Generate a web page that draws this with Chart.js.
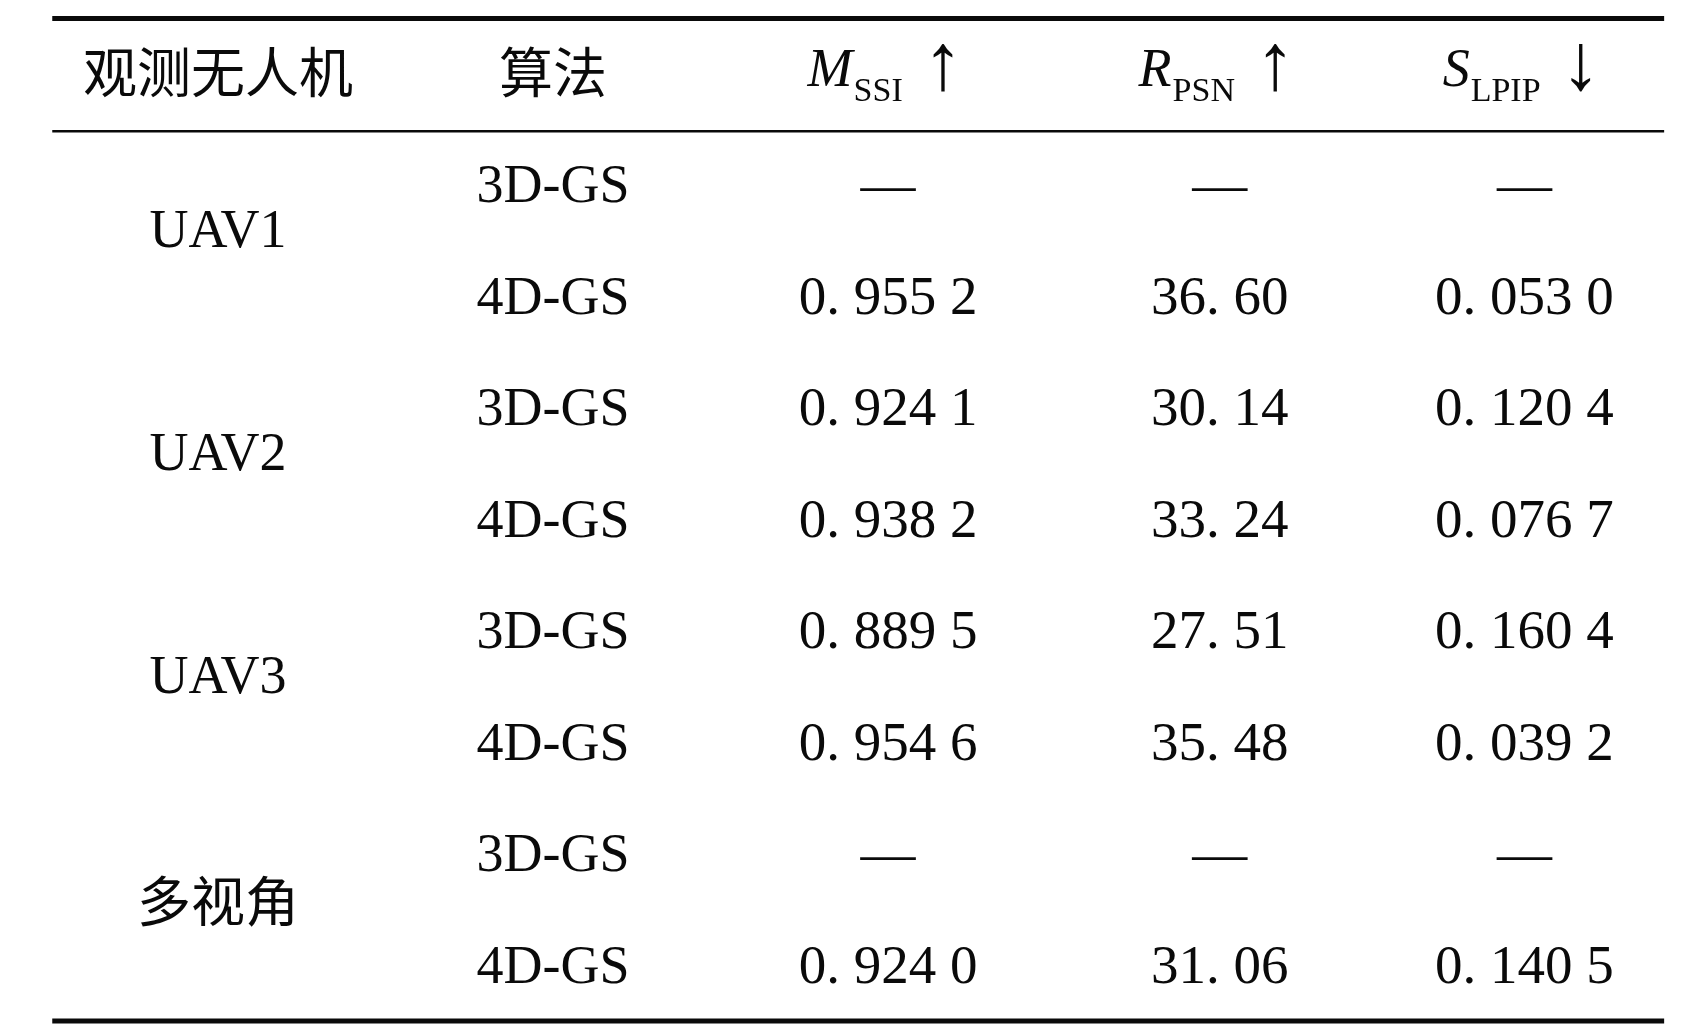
<!DOCTYPE html>
<html>
<head>
<meta charset="utf-8">
<script src="https://cdn.jsdelivr.net/npm/chart.js@4/dist/chart.umd.min.js"></script>
<style>
html, body { margin: 0; padding: 0; background: #fff; }
#wrap { width: 1703px; height: 1033px; }
</style>
</head>
<body>
<div id="wrap"><canvas id="table" width="1703" height="1033"></canvas></div>
<script>
// table data
const headMain = ["观测无人机", "算法", "M", "R", "S"];
const headSub = ["", "", "SSI", "PSN", "LPIP"];
const headArrow = ["", "", "↑", "↑", "↓"];
const groups = ["UAV1", "UAV2", "UAV3", "多视角"];
const methods = ["3D-GS", "4D-GS", "3D-GS", "4D-GS", "3D-GS", "4D-GS", "3D-GS", "4D-GS"];
const ssim = [null, 0.9552, 0.9241, 0.9382, 0.8895, 0.9546, null, 0.9240];
const psnr = [null, 36.60, 30.14, 33.24, 27.51, 35.48, null, 31.06];
const lpips = [null, 0.0530, 0.1204, 0.0767, 0.1604, 0.0392, null, 0.1405];

// layout (in scale units: x = column, y = row)
const colX = [0, 1, 2, 2.99, 3.9];
const headY = -0.04;
const headShift = -0.01;
const groupShift = 0.4;
const rules = [
	{ y: -0.52, w: 5 },
	{ y: 0.49, w: 2.5 },
	{ y: 8.47, w: 5 },
];
const ruleLeft = -0.495;
const ruleRight = 4.317;

const serif = "'Liberation Serif', 'Times New Roman', 'Noto Sans CJK SC', serif";
const cjk = "'Noto Sans CJK SC', serif";

// "0.9552" -> "0. 955 2", "36.6" -> "36. 60"
function fmt(v, dec) {
	if (v == null) return "—";
	let parts = v.toFixed(dec).split(".");
	let frac = parts[1];
	if (frac.length > 3) frac = frac.slice(0, 3) + " " + frac.slice(3);
	return parts[0] + ". " + frac;
}

const cellText = {
	id: "cellText",
	afterDatasetsDraw(chart) {
		const ctx = chart.ctx;
		const xs = chart.scales.x;
		const ys = chart.scales.y;
		ctx.save();
		ctx.fillStyle = "#0a0a0a";
		ctx.textBaseline = "middle";

		// header
		const hy = ys.getPixelForValue(headY);
		headMain.forEach((t, c) => {
			if (!headSub[c]) {
				ctx.font = "54px " + cjk;
				ctx.textAlign = "center";
				ctx.fillText(t, xs.getPixelForValue(colX[c]), hy);
				return;
			}
			const cx = xs.getPixelForValue(colX[c] + headShift);
			ctx.textAlign = "left";
			ctx.font = "italic 54px " + serif;
			const w1 = ctx.measureText(t).width;
			ctx.font = "34px " + serif;
			const w2 = ctx.measureText(headSub[c]).width;
			ctx.font = "80px " + serif;
			const w3 = ctx.measureText(headArrow[c]).width;
			const gap = 20;
			let x = cx - (w1 + w2 + gap + w3) / 2;
			ctx.font = "italic 54px " + serif;
			ctx.fillText(t, x, hy);
			x += w1 + 1;
			ctx.font = "34px " + serif;
			ctx.fillText(headSub[c], x, hy + 20);
			x += w2 + gap;
			ctx.font = "80px " + serif;
			ctx.fillText(headArrow[c], x, hy - 4);
		});

		// body
		ctx.textAlign = "center";
		groups.forEach((g, i) => {
			ctx.font = "54px " + (/[A-Za-z]/.test(g) ? serif : cjk);
			ctx.fillText(g, xs.getPixelForValue(colX[0]), ys.getPixelForValue(2 * i + 1 + groupShift));
		});
		methods.forEach((m, r) => {
			const py = ys.getPixelForValue(r + 1);
			ctx.font = "54px " + serif;
			ctx.fillText(m, xs.getPixelForValue(colX[1]), py);
			ctx.font = "55px " + serif;
			ctx.fillText(fmt(ssim[r], 4), xs.getPixelForValue(colX[2]), py);
			ctx.fillText(fmt(psnr[r], 2), xs.getPixelForValue(colX[3]), py);
			ctx.fillText(fmt(lpips[r], 4), xs.getPixelForValue(colX[4]), py);
		});
		ctx.restore();
	},
};

new Chart(document.getElementById("table"), {
	type: "line",
	data: {
		datasets: rules.map((r) => ({
			data: [{ x: ruleLeft, y: r.y }, { x: ruleRight, y: r.y }],
			borderColor: "#0a0a0a",
			borderWidth: r.w,
			pointRadius: 0,
			fill: false,
		})),
	},
	options: {
		responsive: false,
		animation: false,
		devicePixelRatio: 1,
		layout: { padding: 0 },
		plugins: {
			legend: { display: false },
			tooltip: { enabled: false },
		},
		scales: {
			x: { type: "linear", min: -0.651, max: 4.433, display: false },
			y: { type: "linear", min: -0.686, max: 8.578, reverse: true, display: false },
		},
	},
	plugins: [cellText],
});
</script>
</body>
</html>
